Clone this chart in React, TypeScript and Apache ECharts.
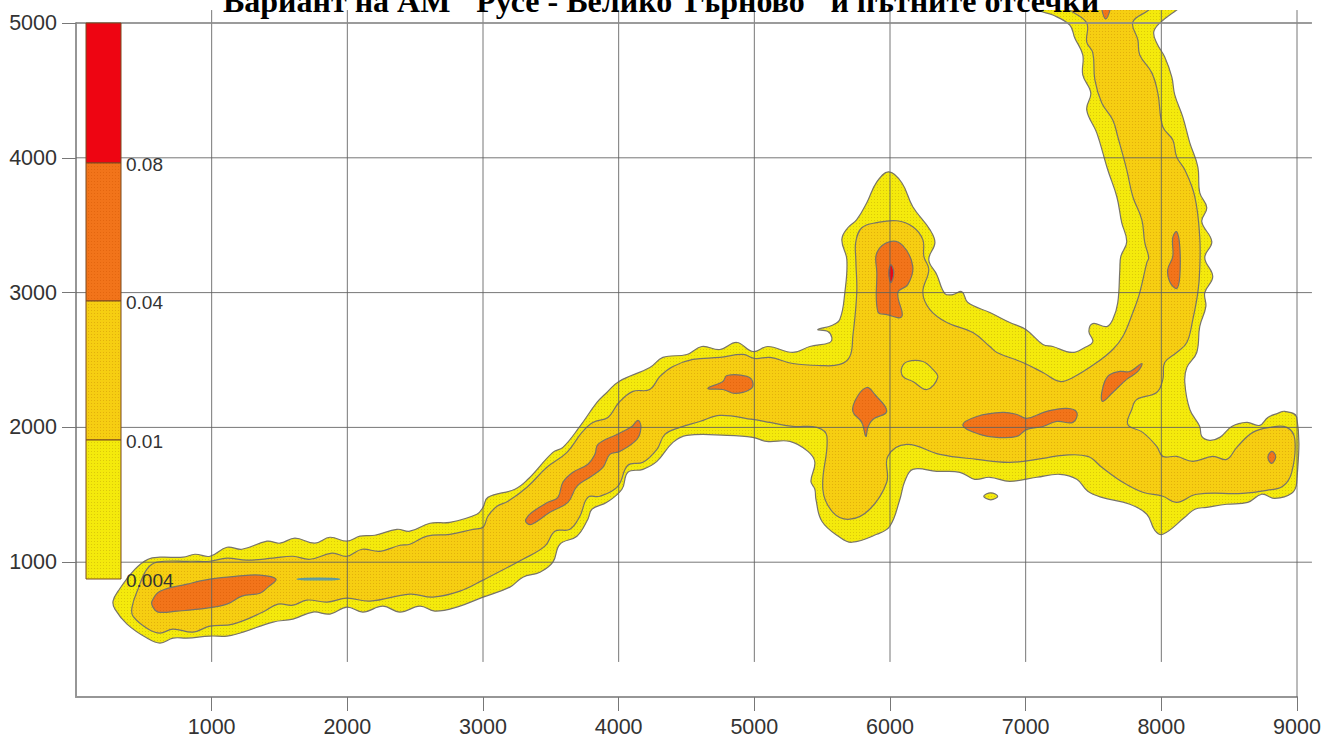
import React, { useEffect, useRef } from "react";
import * as echarts from "echarts";

const titleText = "Вариант на АМ \"Русе - Велико Търново\" и пътните отсечки";
const xTicks = [1000, 2000, 3000, 4000, 5000, 6000, 7000, 8000, 9000];
const yTicks = [1000, 2000, 3000, 4000, 5000];
const legendLabels = ["0.08", "0.04", "0.01", "0.004"];

// Contour level 0.004
const yellowOuter = [[273,711],[310,785],[435,948],[531,1022],[619,1037],[789,1037],[877,1059],[988,1044],[1113,1111],[1223,1096],[1408,1156],[1503,1141],[1614,1178],[1761,1141],[1872,1185],[1997,1156],[2093,1193],[2203,1200],[2366,1244],[2461,1230],[2609,1289],[2756,1296],[2955,1356],[3000,1407],[3036,1481],[3235,1541],[3331,1615],[3515,1815],[3589,1852],[3714,2007],[3840,2185],[3913,2259],[4002,2341],[4230,2444],[4326,2519],[4503,2541],[4613,2600],[4746,2578],[4871,2630],[4989,2563],[5100,2600],[5284,2556],[5409,2600],[5557,2630],[5571,2667],[5542,2711],[5468,2726],[5571,2756],[5630,2800],[5667,3000],[5682,3244],[5645,3393],[5689,3481],[5755,3541],[5829,3667],[5903,3822],[5991,3896],[6087,3815],[6168,3637],[6294,3467],[6331,3370],[6286,3244],[6345,3133],[6404,2993],[6463,2985],[6530,3007],[6574,2926],[6736,2852],[6883,2778],[7001,2726],[7127,2615],[7200,2600],[7340,2556],[7436,2593],[7495,2637],[7466,2711],[7495,2770],[7598,2748],[7642,2800],[7679,2926],[7694,3170],[7701,3267],[7745,3378],[7708,3519],[7672,3711],[7605,3911],[7524,4185],[7450,4356],[7480,4481],[7421,4615],[7421,4763],[7362,4889],[7325,4985],[7200,5059],[7089,5096],[6900,5230],[8300,5230],[8113,5096],[7988,4999],[7944,4933],[7966,4852],[8025,4748],[8077,4600],[8099,4467],[8158,4304],[8210,4111],[8269,3933],[8283,3741],[8335,3630],[8298,3526],[8372,3378],[8320,3259],[8379,3119],[8320,3000],[8328,2896],[8283,2748],[8261,2556],[8188,2444],[8173,2333],[8210,2133],[8283,2007],[8298,1933],[8357,1904],[8431,1926],[8519,2007],[8630,2037],[8726,2015],[8785,2074],[8858,2104],[8910,2119],[8998,2074],[8998,1593],[8961,1511],[8836,1474],[8740,1504],[8637,1444],[8482,1430],[8335,1407],[8247,1393],[8173,1333],[8011,1207],[7952,1237],[7893,1356],[7768,1430],[7561,1481],[7458,1526],[7377,1615],[7252,1652],[7082,1630],[6883,1600],[6736,1630],[6625,1615],[6515,1667],[6345,1674],[6168,1689],[6109,1600],[6073,1467],[5999,1267],[5903,1207],[5719,1148],[5630,1185],[5498,1304],[5454,1467],[5446,1541],[5417,1600],[5446,1741],[5395,1822],[5262,1896],[5092,1896],[4989,1926],[4798,1941],[4503,1941],[4400,1889],[4282,1748],[4179,1689],[4068,1667],[4024,1541],[3913,1444],[3803,1393],[3773,1319],[3692,1193],[3567,1133],[3515,1000],[3420,926],[3294,889],[3198,815],[3000,741],[2808,667],[2646,637],[2535,674],[2388,630],[2262,674],[2115,630],[1997,667],[1872,615],[1747,630],[1599,578],[1452,556],[1231,481],[1113,452],[988,452],[818,437],[715,437],[619,400],[523,437],[376,541],[287,652]];
const yellowSpot = [[6691,1489],[6743,1515],[6794,1489],[6743,1463]];

// Contour level 0.01
const goldBand = [[413,667],[457,800],[523,948],[597,1000],[840,1007],[988,1007],[1113,1030],[1260,1015],[1452,1030],[1599,1044],[1725,1022],[1887,1067],[1997,1044],[2108,1096],[2240,1081],[2388,1126],[2461,1133],[2587,1193],[2756,1207],[2926,1244],[3000,1259],[3036,1341],[3103,1415],[3184,1452],[3324,1556],[3471,1704],[3619,1815],[3729,1963],[3810,2037],[3921,2074],[4002,2185],[4105,2267],[4230,2281],[4304,2378],[4400,2452],[4547,2504],[4746,2519],[4916,2541],[5004,2511],[5115,2519],[5284,2474],[5483,2459],[5630,2467],[5704,2526],[5726,2674],[5755,3000],[5748,3244],[5748,3378],[5792,3481],[5903,3519],[6050,3533],[6168,3489],[6242,3393],[6250,3267],[6286,3170],[6242,3000],[6294,2874],[6419,2778],[6611,2704],[6736,2600],[6788,2556],[6979,2481],[7127,2407],[7252,2341],[7348,2370],[7524,2481],[7642,2578],[7716,2674],[7790,2852],[7841,3000],[7893,3222],[7907,3259],[7878,3370],[7856,3541],[7790,3711],[7745,3911],[7679,4156],[7642,4281],[7561,4407],[7510,4578],[7495,4778],[7450,4859],[7450,5000],[7325,5096],[7150,5230],[8050,5230],[7907,5096],[7790,5007],[7827,4874],[7841,4763],[7930,4630],[7974,4481],[8011,4230],[8084,4133],[8113,4007],[8173,3911],[8247,3711],[8283,3415],[8283,3170],[8269,3000],[8232,2800],[8188,2630],[8113,2556],[8025,2481],[8011,2356],[7966,2259],[7819,2207],[7782,2133],[7753,2022],[7863,1963],[7966,1859],[8011,1785],[8113,1785],[8232,1748],[8379,1785],[8482,1763],[8556,1852],[8674,1963],[8799,2000],[8925,2000],[8984,1911],[8961,1667],[8895,1563],[8777,1533],[8600,1511],[8261,1504],[8113,1444],[8011,1489],[7863,1519],[7716,1593],[7561,1704],[7458,1785],[7274,1793],[7127,1770],[6883,1741],[6640,1763],[6367,1800],[6124,1874],[5984,1785],[5976,1593],[5851,1393],[5704,1319],[5579,1370],[5505,1541],[5535,1933],[5461,2000],[5284,2007],[5115,2037],[4989,2059],[4746,2089],[4598,2044],[4451,2000],[4341,1948],[4282,1837],[4179,1741],[4068,1719],[3994,1563],[3862,1489],[3773,1481],[3714,1341],[3641,1244],[3530,1230],[3456,1119],[3294,1022],[3000,867],[2830,785],[2631,741],[2461,763],[2167,711],[1997,733],[1850,704],[1702,719],[1599,681],[1489,689],[1378,630],[1157,541],[988,526],[862,481],[715,504],[619,474],[531,504],[420,600]];
const yellowHole = [[6087,2444],[6131,2489],[6242,2489],[6316,2430],[6352,2370],[6272,2281],[6168,2341],[6095,2378]];

// Contour level 0.04
const orangeA = [[560,711],[619,785],[818,837],[988,874],[1187,896],[1356,904],[1474,874],[1415,815],[1356,770],[1223,748],[1113,689],[965,659],[744,637],[604,630],[567,667]];
const orangeB = [[3316,1319],[3361,1370],[3478,1444],[3552,1481],[3589,1593],[3663,1667],[3773,1726],[3825,1800],[3847,1874],[3987,1948],[4097,2007],[4142,2052],[4164,2000],[4134,1911],[4009,1822],[3935,1800],[3884,1704],[3788,1630],[3692,1563],[3626,1444],[3493,1370],[3361,1281],[3324,1289]];
const orangeC = [[4657,2289],[4768,2341],[4798,2385],[4945,2378],[4989,2333],[4967,2281],[4857,2252],[4768,2281]];
const orangeD = [[5829,2296],[5888,2244],[5976,2119],[5873,2059],[5837,2000],[5822,1933],[5792,2037],[5726,2119],[5755,2222]];
const orangeE = [[6537,2015],[6640,2081],[6832,2111],[6935,2096],[7009,2067],[7156,2119],[7303,2141],[7377,2111],[7348,2037],[7230,2044],[7127,2007],[7009,1985],[6935,1933],[6787,1926],[6662,1948]];
const orangeF = [[5903,3296],[5999,3378],[6095,3348],[6168,3193],[6131,3059],[6058,3000],[6087,2822],[5976,2837],[5910,2859],[5903,3148]];
const orangeG = [[7856,2474],[7827,2415],[7745,2356],[7642,2259],[7568,2193],[7561,2259],[7605,2378],[7694,2415],[7768,2415]];
const orangeH = [[8113,3452],[8136,3341],[8136,3119],[8113,3030],[8062,3081],[8047,3170],[8084,3267],[8084,3407]];
const orangeI = [[8814,1822],[8843,1785],[8814,1733],[8785,1778]];
const orangeTop = [[7555,5200],[7635,5200],[7590,5030]];

// Contour level 0.08
const redPeak = [[6006,3207],[6028,3148],[6006,3074],[5991,3148]];
const sliver = [[1629,874],[1790,882],[1945,874],[1790,868]];

function stipple(base: string, dot: string) {
  const c = document.createElement("canvas");
  c.width = 3;
  c.height = 3;
  const g = c.getContext("2d")!;
  g.fillStyle = base;
  g.fillRect(0, 0, 3, 3);
  g.fillStyle = dot;
  g.fillRect(1, 1, 1, 1);
  return { image: c, repeat: "repeat" };
}

export default function App() {
  const ref = useRef<HTMLDivElement>(null);
  useEffect(() => {
    document.body.style.margin = "0";
    document.body.style.overflow = "hidden";
    const chart = echarts.init(ref.current!, undefined, { renderer: "svg" });

    const yellow = stipple("#F4EA0C", "#DCC80A");
    const gold = stipple("#F6CE12", "#E2B00C");
    const orange = stipple("#F2741A", "#E4660F");
    const red = "#EE0512";
    const edge = "#77746a";

    const contours: { pts: number[][]; fill: any; stroke?: string }[] = [
      { pts: yellowOuter, fill: yellow },
      { pts: yellowSpot, fill: yellow },
      { pts: goldBand, fill: gold },
      { pts: yellowHole, fill: yellow },
      { pts: orangeA, fill: orange },
      { pts: orangeB, fill: orange },
      { pts: orangeC, fill: orange },
      { pts: orangeD, fill: orange },
      { pts: orangeE, fill: orange },
      { pts: orangeF, fill: orange },
      { pts: orangeG, fill: orange },
      { pts: orangeH, fill: orange },
      { pts: orangeI, fill: orange },
      { pts: orangeTop, fill: orange },
      { pts: redPeak, fill: red },
      { pts: sliver, fill: "#6fa7a0", stroke: "#5b9aa3" },
    ];

    const legendBands = [
      { top: 23, bottom: 163, fill: red },
      { top: 163, bottom: 301, fill: orange },
      { top: 301, bottom: 440, fill: gold },
      { top: 440, bottom: 579, fill: yellow },
    ];
    const font = "Liberation Sans, Arial, sans-serif";

    const gridSegments: number[][][] = [
      ...xTicks.map((v) => [[v, v === 9000 ? 0 : 260], [v, 5096]]),
      ...yTicks.map((v) => [[0, v], [9110, v]]),
    ];

    chart.setOption({
      animation: false,
      backgroundColor: "#fff",
      title: {
        text: titleText,
        left: 656,
        top: -20,
        z: 30,
        textAlign: "center",
        textStyle: {
          fontFamily: "Liberation Serif, Times New Roman, serif",
          fontWeight: "bold",
          fontSize: 32,
          color: "#000",
        },
      },
      grid: { left: 76, top: 23, width: 1221, height: 675, containLabel: false },
      xAxis: {
        type: "value",
        min: 0,
        max: 9000,
        interval: 1000,
        splitLine: { show: false },
        axisLine: { show: true, onZero: false, lineStyle: { color: "#969696", width: 2 } },
        axisTick: { show: true, customValues: xTicks, length: 14, lineStyle: { color: "#777", width: 1 } },
        axisLabel: { customValues: xTicks, formatter: (v: number) => String(v), margin: 19, fontFamily: font, fontSize: 21.5, color: "#333" },
      },
      yAxis: {
        type: "value",
        min: 0,
        max: 5000,
        interval: 1000,
        splitLine: { show: false },
        axisLine: { show: true, onZero: false, lineStyle: { color: "#969696", width: 2 } },
        axisTick: { show: true, customValues: yTicks, length: 14, lineStyle: { color: "#777", width: 1 } },
        axisLabel: { customValues: yTicks, formatter: (v: number) => String(v), margin: 19, fontFamily: font, fontSize: 21.5, color: "#333" },
      },
      series: [
        {
          type: "custom",
          name: "contours",
          silent: true,
          z: 2,
          clip: false,
          data: contours.map((_, i) => [i]),
          renderItem: (params: any, api: any) => {
            const c = contours[params.dataIndex];
            return {
              type: "polygon",
              shape: { points: c.pts.map((p) => api.coord(p)), smooth: 0.4 },
              style: { fill: c.fill, stroke: c.stroke || edge, lineWidth: 1.2 },
            };
          },
        },
        {
          type: "custom",
          name: "grid lines",
          silent: true,
          z: 3,
          clip: false,
          data: gridSegments.map((_, i) => [i]),
          renderItem: (params: any, api: any) => {
            const [a, b] = gridSegments[params.dataIndex];
            const pa = api.coord(a);
            const pb = api.coord(b);
            const isTop = a[1] === 5000 && b[1] === 5000;
            return {
              type: "line",
              shape: { x1: pa[0], y1: pa[1], x2: pb[0], y2: pb[1] },
              style: { stroke: isTop ? "#8a8a8a" : "#5f5f5f", lineWidth: isTop ? 2 : 1, opacity: 0.85 },
            };
          },
        },
      ],
      graphic: [
        {
          type: "rect",
          z: 10,
          shape: { x: 0, y: 0, width: 1338, height: 10 },
          style: { fill: "#fff" },
        },
        ...legendBands.map((b) => ({
          type: "rect",
          z: 20,
          shape: { x: 86, y: b.top, width: 35, height: b.bottom - b.top },
          style: { fill: b.fill, stroke: "#7a4a20", lineWidth: 1 },
        })),
        ...legendLabels.map((t, i) => ({
          type: "text",
          z: 21,
          x: 126,
          y: legendBands[i].bottom + 1,
          style: { text: t, fontFamily: font, fontSize: 19, fill: "#333", verticalAlign: "middle", align: "left" },
        })),
      ],
    });
    return () => chart.dispose();
  }, []);
  return <div ref={ref} style={{ position: "absolute", left: 0, top: 0, width: 1338, height: 738 }} />;
}
